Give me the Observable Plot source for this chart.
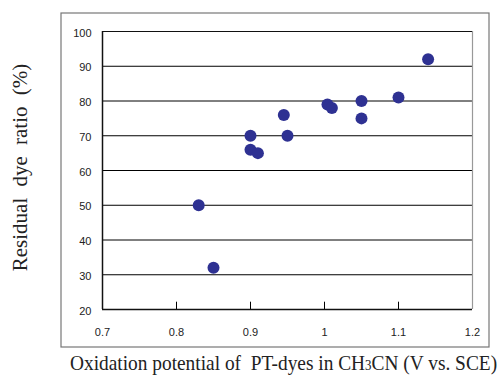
<!DOCTYPE html>
<html><head><meta charset="utf-8">
<script src="https://cdn.jsdelivr.net/npm/d3@7"></script>
<script src="https://cdn.jsdelivr.net/npm/@observablehq/plot@0.6"></script>
<style>body{margin:0;background:#fff}svg{display:block}</style>
</head><body><div id="chart"></div>
<script>
const oxidation = [1.14, 1.10, 1.05, 1.05, 1.004, 1.01, 0.945, 0.90, 0.95, 0.90, 0.91, 0.83, 0.85];
const residual  = [92, 81, 80, 75, 79, 78, 76, 70, 70, 66, 65, 50, 32];
const xTicks = [0.7, 0.8, 0.9, 1.0, 1.1, 1.2];
const yTicks = [20, 30, 40, 50, 60, 70, 80, 90, 100];
const gridY = [30, 40, 50, 60, 70, 80, 90];
const xTitle = "Oxidation potential of  PT-dyes in CH";
const yTitle = "Residual dye ratio (%)";

const data = oxidation.map((x, i) => ({x, y: residual[i]}));

const plot = Plot.plot({
  width: 504, height: 378,
  marginLeft: 102, marginRight: 32, marginTop: 31, marginBottom: 69,
  style: {fontFamily: "Liberation Sans, Arial, sans-serif", fontSize: "11px", color: "#222"},
  x: {domain: [0.7, 1.2], ticks: xTicks, tickFormat: d => d === 1 ? "1" : d3.format(".1f")(d)},
  y: {domain: [20, 100], ticks: yTicks},
  marks: [
    Plot.ruleY(gridY, {stroke: "#000", strokeWidth: 1}),
    Plot.ruleX(xTicks.slice(1, -1), {y1: 20, y2: 22.1, stroke: "#000"}),
    Plot.ruleX([1.2], {stroke: "#999", strokeWidth: 1.2}),
    Plot.ruleY([100], {stroke: "#111", strokeWidth: 1.2}),
    Plot.ruleX([0.7], {stroke: "#111", strokeWidth: 1.5}),
    Plot.ruleY([20], {stroke: "#111", strokeWidth: 1.5}),
    Plot.axisX({ticks: xTicks, tickSize: 0, tickPadding: 19, label: null, tickFormat: d => d === 1 ? "1" : d3.format(".1f")(d)}),
    Plot.axisY({ticks: yTicks, tickSize: 0, tickPadding: 11, dy: 1.5, label: null}),
    Plot.dot(data, {x: "x", y: "y", r: 6, fill: "#2E3192", stroke: "none"})
  ]
});

const svg = d3.select(plot);
svg.append("rect").attr("x", 61).attr("y", 13).attr("width", 428).attr("height", 334)
  .attr("fill", "none").attr("stroke", "#777").attr("stroke-width", 1.2);

const t = svg.append("text").attr("transform", "translate(70,370) scale(0.923,1)").attr("text-anchor", "start")
  .attr("font-family", "Liberation Serif, Times New Roman, serif").attr("font-size", 21).attr("fill", "#222")
  .style("white-space", "pre")
  .text(xTitle);
t.append("tspan").attr("font-size", 14).text("3");
t.append("tspan").text("CN (V vs. SCE)");

svg.append("text").attr("transform", "translate(27,167.5) rotate(-90)").attr("text-anchor", "middle")
  .attr("font-family", "Liberation Serif, Times New Roman, serif").attr("font-size", 21).attr("fill", "#222")
  .attr("word-spacing", 6)
  .text(yTitle);

document.getElementById("chart").appendChild(plot);
</script></body></html>
